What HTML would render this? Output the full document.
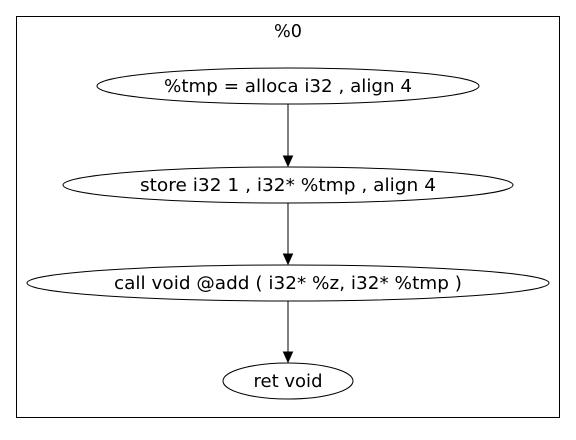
<!DOCTYPE html>
<html><head><meta charset="utf-8"><style>html,body{margin:0;padding:0;background:#fff;}</style></head>
<body>
<svg width="576" height="435" viewBox="0 0 576 435" xmlns="http://www.w3.org/2000/svg" font-family="DejaVu Sans, Liberation Sans, sans-serif" font-size="18">
<rect x="0" y="0" width="576" height="435" fill="#fff"/>
<rect x="16.5" y="16.5" width="543" height="401" fill="none" stroke="#000"/>
<text x="288" y="37" text-anchor="middle" textLength="28" lengthAdjust="spacingAndGlyphs">%0</text>
<ellipse cx="288" cy="86" rx="191" ry="18" fill="none" stroke="#000"/>
<text x="288" y="92" text-anchor="middle" textLength="248" lengthAdjust="spacingAndGlyphs">%tmp = alloca i32 , align 4</text>
<ellipse cx="288" cy="185" rx="225" ry="18" fill="none" stroke="#000"/>
<text x="288" y="191" text-anchor="middle" textLength="296" lengthAdjust="spacingAndGlyphs">store i32 1 , i32* %tmp , align 4</text>
<ellipse cx="288" cy="283" rx="261" ry="18" fill="none" stroke="#000"/>
<text x="288" y="289" text-anchor="middle" textLength="348" lengthAdjust="spacingAndGlyphs">call void @add ( i32* %z, i32* %tmp )</text>
<ellipse cx="288" cy="381" rx="65" ry="18" fill="none" stroke="#000"/>
<text x="288" y="387" text-anchor="middle" textLength="69" lengthAdjust="spacingAndGlyphs">ret void</text>
<g stroke="#000" fill="#000">
<line x1="288" y1="104" x2="288" y2="157"/>
<polygon points="283.5,156 292.5,156 288,166"/>
<line x1="288" y1="203" x2="288" y2="255"/>
<polygon points="283.5,254 292.5,254 288,264"/>
<line x1="288" y1="301" x2="288" y2="353"/>
<polygon points="283.5,352 292.5,352 288,362"/>
</g>
</svg>
</body></html>
